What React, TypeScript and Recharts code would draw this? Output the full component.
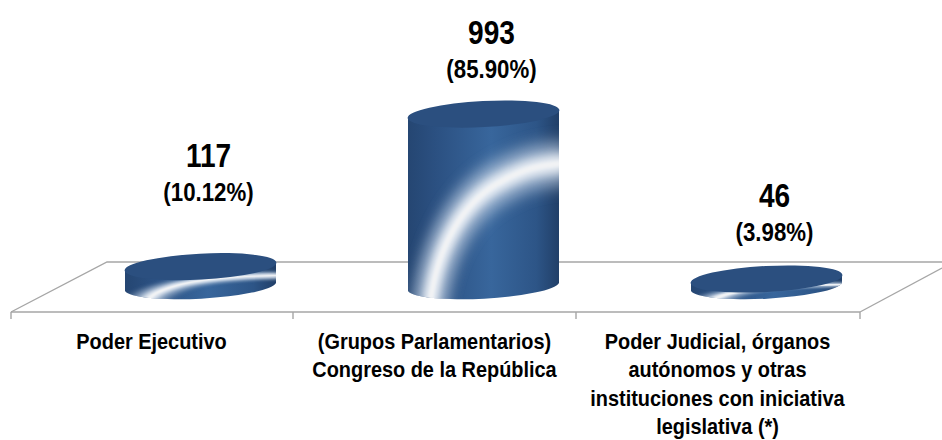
import { Bar, BarChart, Customized, LabelList, XAxis, YAxis } from "recharts";

const categories = [
  ["Poder Ejecutivo"],
  ["(Grupos Parlamentarios)", "Congreso de la República"],
  ["Poder Judicial, órganos", "autónomos y otras", "instituciones con iniciativa", "legislativa (*)"],
];
const counts = [117, 993, 46];
const shares = ["(10.12%)", "(85.90%)", "(3.98%)"];

const chartData = categories.map((lines, i) => ({ name: String(i), count: counts[i] }));

const FONT = "'Liberation Sans', Arial, sans-serif";
const FLOOR = "#a6a6a6";
// the 3D floor pushes the cylinders back and to the right of their category
const DEPTH_X = 48;
const DEPTH_Y = 25;
const LABEL_LIFT = [30, 0, 2];

function Floor() {
  return (
    <g stroke={FLOOR} strokeWidth={1.4} fill="none">
      <path d="M11 312 L107 262 L942 262" />
      <path d="M860 312 L942 268" />
      <path d="M11 312 V319 M293 312 V319 M576 312 V319 M860 312 V319" />
    </g>
  );
}

function Cylinder(props: any) {
  const { x, y, width, height, index } = props;
  const cx = x + width / 2 + DEPTH_X;
  const left = cx - width / 2;
  const right = cx + width / 2;
  const top = y - DEPTH_Y;
  const bottom = y + height - DEPTH_Y;
  const rx = width / 2 + 0.5;
  const ry = 13;
  const tilt = 4;
  const body = `M${left} ${top + tilt} L${left} ${bottom + tilt} A${rx} ${ry} -3 0 0 ${right} ${bottom - tilt} L${right} ${top - tilt} A${rx} ${ry} -3 0 0 ${left} ${top + tilt} Z`;
  // highlight is a texture stretched over the visible side, so it thins out on short bars
  const boxH = height + ry;
  const swoosh = "M14 107 C18 70 38 47 60 37 S90 28 106 26";
  return (
    <g>
      <defs>
        <linearGradient id={`side-${index}`} x1="0" x2="1" y1="0" y2="0">
          <stop offset="0" stopColor="#254672" />
          <stop offset="0.18" stopColor="#2b5081" />
          <stop offset="0.55" stopColor="#38669c" />
          <stop offset="0.85" stopColor="#2d5587" />
          <stop offset="1" stopColor="#213f68" />
        </linearGradient>
        <clipPath id={`clip-${index}`}>
          <path d={body} />
        </clipPath>
        <filter id={`halo-${index}`} filterUnits="userSpaceOnUse" x="-30" y="-30" width="170" height="170">
          <feGaussianBlur stdDeviation="4.5" />
        </filter>
        <filter id={`mid-${index}`} filterUnits="userSpaceOnUse" x="-30" y="-30" width="170" height="170">
          <feGaussianBlur stdDeviation="2.5" />
        </filter>
        <filter id={`core-${index}`} filterUnits="userSpaceOnUse" x="-30" y="-30" width="170" height="170">
          <feGaussianBlur stdDeviation="0.8" />
        </filter>
      </defs>
      <path d={body} fill={`url(#side-${index})`} />
      <g clipPath={`url(#clip-${index})`}>
        <g transform={`translate(${left} ${top}) scale(${width / 100} ${boxH / 100})`} fill="none">
          <path d={swoosh} stroke="#c3d2e4" strokeWidth={22} opacity={0.8} filter={`url(#halo-${index})`} />
          <path d={swoosh} stroke="#ffffff" strokeWidth={9} opacity={0.8} filter={`url(#mid-${index})`} />
          <path d={swoosh} stroke="#f2f3f4" strokeWidth={2.5} filter={`url(#core-${index})`} />
        </g>
      </g>
      <ellipse
        cx={cx}
        cy={top}
        rx={rx}
        ry={ry}
        fill="#2b4f7f"
        transform={`rotate(-3 ${cx} ${top})`}
      />
    </g>
  );
}

function ValueLabel(props: any) {
  const { x, y, width, value, index } = props;
  const cx = x + width / 2 + DEPTH_X + 8;
  const top = y - DEPTH_Y - 13 - LABEL_LIFT[index];
  return (
    <g fontFamily={FONT} fontWeight={700} fill="#000" textAnchor="middle">
      <text transform={`translate(${cx} ${top - 57}) scale(0.85 1)`} fontSize={33}>
        {value}
      </text>
      <text transform={`translate(${cx} ${top - 23}) scale(0.89 1)`} fontSize={25}>
        {shares[index]}
      </text>
    </g>
  );
}

function CategoryTick(props: any) {
  const { x, y, index } = props;
  return (
    <g fontFamily={FONT} fontWeight={700} fontSize={22} fill="#000" textAnchor="middle">
      {categories[index].map((line, i) => (
        <text key={line} transform={`translate(${x - 1} ${y + 29 + i * 28.4}) scale(0.905 1)`}>
          {line}
        </text>
      ))}
    </g>
  );
}

export default function App() {
  return (
    <div style={{ position: "absolute", left: 0, top: 0, width: 942, height: 440, background: "#fff" }}>
      <BarChart
        width={942}
        height={440}
        data={chartData}
        margin={{ top: 103, right: 82, bottom: 0, left: 11 }}
      >
        <Customized component={Floor} />
        <XAxis
          dataKey="name"
          height={128}
          interval={0}
          axisLine={{ stroke: FLOOR, strokeWidth: 1.4 }}
          tickLine={false}
          tick={<CategoryTick />}
        />
        <YAxis hide domain={[0, 1200]} />
        <Bar dataKey="count" barSize={151} shape={<Cylinder />} isAnimationActive={false}>
          <LabelList dataKey="count" content={<ValueLabel />} />
        </Bar>
      </BarChart>
    </div>
  );
}
